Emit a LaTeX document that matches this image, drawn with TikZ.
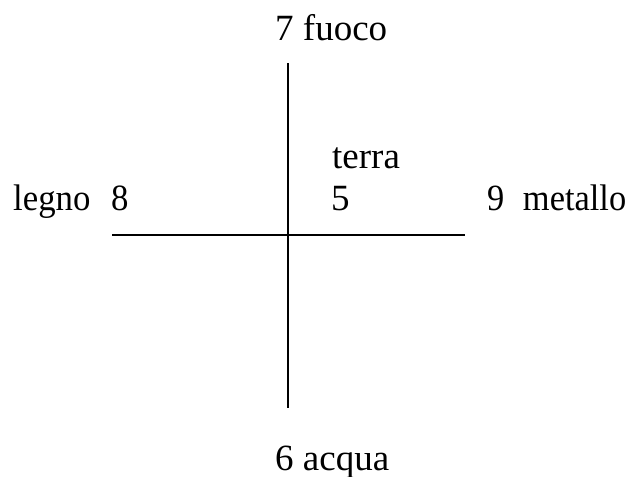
\documentclass[tikz,border=0pt]{standalone}
\usepackage{graphicx}
\usepackage{fontspec}
\setmainfont{Liberation Serif}
\begin{document}
\begin{tikzpicture}[x=1pt,y=-1pt,
  lbl/.style={anchor=base west,inner sep=0pt,font=\fontsize{37}{40}\selectfont},
  axis/.style={line width=1.6pt,black}]
\useasboundingbox (0,0) rectangle (630,477);
\node[lbl] (fuoco) at (275,40) {7 fuoco};
\node[lbl] (terra) at (332,168) {terra};
\node[lbl] (cinque) at (331,210) {5};
\node[lbl] (legno) at (13,210) {\scalebox{0.94}[1]{legno\hspace{22pt}8}};
\node[lbl] (metallo) at (487,210) {\scalebox{0.93}[1]{9\hspace{20pt}metallo}};
\node[lbl] (acqua) at (275,470) {6 acqua};
\coordinate (top) at (288,63);
\coordinate (bot) at (288,408);
\coordinate (left) at (112,235);
\coordinate (right) at (465,235);
\draw[axis] (top) -- (bot);
\draw[axis] (left) -- (right);
\end{tikzpicture}
\end{document}
